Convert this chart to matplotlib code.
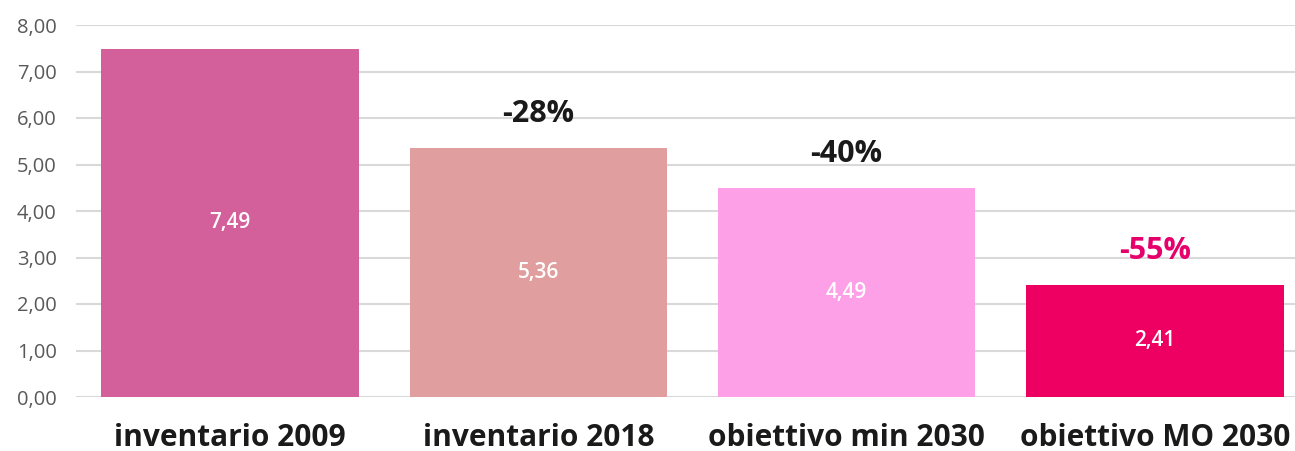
import matplotlib.pyplot as plt

# data
categories = ['inventario 2009', 'inventario 2018', 'obiettivo min 2030', 'obiettivo MO 2030']
values = [7.49, 5.36, 4.49, 2.41]
changes = ['', '-28%', '-40%', '-55%']
bar_colors = ['#D4609B', '#E09E9E', '#FDA0E8', '#EE0062']
change_colors = ['#1A1A1A', '#1A1A1A', '#1A1A1A', '#E5006B']
yticks = [0, 1, 2, 3, 4, 5, 6, 7, 8]

plt.rcParams['font.family'] = ['Open Sans', 'DejaVu Sans']

fig = plt.figure(figsize=(12.95, 4.51), dpi=100)
ax = fig.add_axes([76 / 1295, 1 - 397 / 451, (1309 - 76) / 1295, (397 - 25) / 451])

x = list(range(len(categories)))
ax.bar(x, values, width=0.835, color=bar_colors, zorder=2)

for i, v in enumerate(values):
    ax.text(i, v / 2, f'{v:.2f}'.replace('.', ','), ha='center', va='center',
            color='white', fontsize=15, fontweight='semibold', zorder=3)
    if changes[i]:
        ax.annotate(changes[i], (i, v), xytext=(0, 34), textcoords='offset pixels',
                    ha='center', va='center', fontsize=22, fontweight='bold',
                    color=change_colors[i])

ax.set_xlim(-0.5, 3.5)
ax.set_ylim(0, 8)
ax.set_yticks(yticks)
ax.set_yticklabels([f'{t:.2f}'.replace('.', ',') for t in yticks])
ax.set_xticks(x)
ax.set_xticklabels(categories, fontsize=21.5, fontweight='bold', color='#1A1A1A')
ax.tick_params(axis='y', length=0, pad=14, labelsize=14.5, labelcolor='#595959')
ax.tick_params(axis='x', length=0, pad=19)
ax.grid(axis='y', color='#D9D9D9', linewidth=1.5, zorder=0)
ax.set_axisbelow(True)
for s in ax.spines.values():
    s.set_visible(False)

fig.savefig('out.png', dpi=100)
